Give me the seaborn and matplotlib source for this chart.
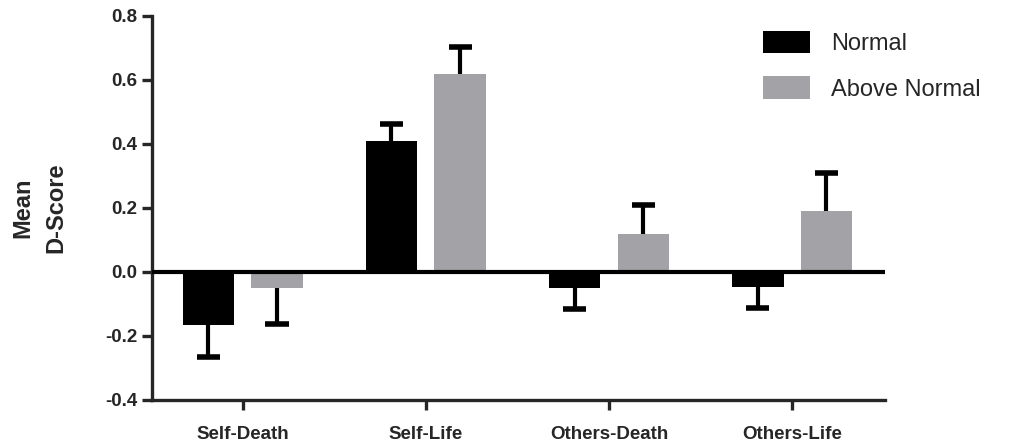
import numpy as np
import pandas as pd
import matplotlib
matplotlib.use('Agg')
import matplotlib.pyplot as plt
import seaborn as sns

# mean D-score per condition, with SEM
categories = ['Self-Death', 'Self-Life', 'Others-Death', 'Others-Life']
groups = ['Normal', 'Above Normal']
normal_mean = [-0.165, 0.410, -0.049, -0.046]
normal_sem = [0.101, 0.054, 0.067, 0.067]
above_mean = [-0.051, 0.618, 0.120, 0.191]
above_sem = [0.111, 0.084, 0.088, 0.119]
y_ticks = [-0.4, -0.2, 0.0, 0.2, 0.4, 0.6, 0.8]
colors = ['#000000', '#a3a3a7']

df = pd.DataFrame({
    'condition': categories * 2,
    'group': [groups[0]] * 4 + [groups[1]] * 4,
    'score': normal_mean + above_mean,
    'sem': normal_sem + above_sem,
})

sns.set_style('ticks')
plt.rcParams['font.family'] = ['Liberation Sans', 'DejaVu Sans']
plt.rcParams['axes.unicode_minus'] = False

fig = plt.figure(figsize=(10.29, 4.46), dpi=100)
ax = fig.add_axes([152 / 1029, 1 - 400 / 446, 733 / 1029, 384 / 446])

sns.barplot(data=df, x='condition', y='score', hue='group', order=categories,
            hue_order=groups, palette=colors, width=0.75, gap=0.25,
            errorbar=None, saturation=1, linewidth=0, ax=ax)

# one-sided error bars, pointing away from zero
cap = 0.063
for cont, grp in zip(ax.containers, groups):
    sub = df[df['group'] == grp].set_index('condition').loc[categories]
    for bar, m, s in zip(cont, sub['score'], sub['sem']):
        xc = bar.get_x() + bar.get_width() / 2
        end = m + s if m >= 0 else m - s
        ax.vlines(xc, m, end, color='black', lw=3, zorder=1)
        ax.hlines(end, xc - cap, xc + cap, color='black', lw=4, zorder=1)

ax.axhline(0, color='black', lw=3, zorder=3)

ax.set_xlim(-0.495, 3.507)
ax.set_ylim(-0.4, 0.8)
ax.set_yticks(y_ticks)
ax.set_yticklabels(['%.1f' % t for t in y_ticks])
sns.despine(ax=ax)
for side in ['left', 'bottom']:
    ax.spines[side].set_linewidth(2.4)
ax.tick_params(axis='both', length=7, width=2.4, labelsize=13.5, pad=3.5)
ax.tick_params(axis='x', pad=12)
for lab in ax.get_xticklabels() + ax.get_yticklabels():
    lab.set_fontweight('bold')

ax.set_xlabel('')
ax.set_ylabel('Mean\nD-Score', fontsize=17, fontweight='bold', linespacing=1.6)
ax.yaxis.set_label_coords(-0.115, 0.5)

handles, labels = ax.get_legend_handles_labels()
ax.legend(handles, labels, loc='upper left', bbox_to_anchor=(763 / 1029, 1 - 31 / 446),
          bbox_transform=fig.transFigure, frameon=False, fontsize=17,
          handlelength=2.0, handleheight=1.07, handletextpad=0.9,
          labelspacing=0.9, borderpad=0, borderaxespad=0)

fig.savefig('out.png', dpi=100)
